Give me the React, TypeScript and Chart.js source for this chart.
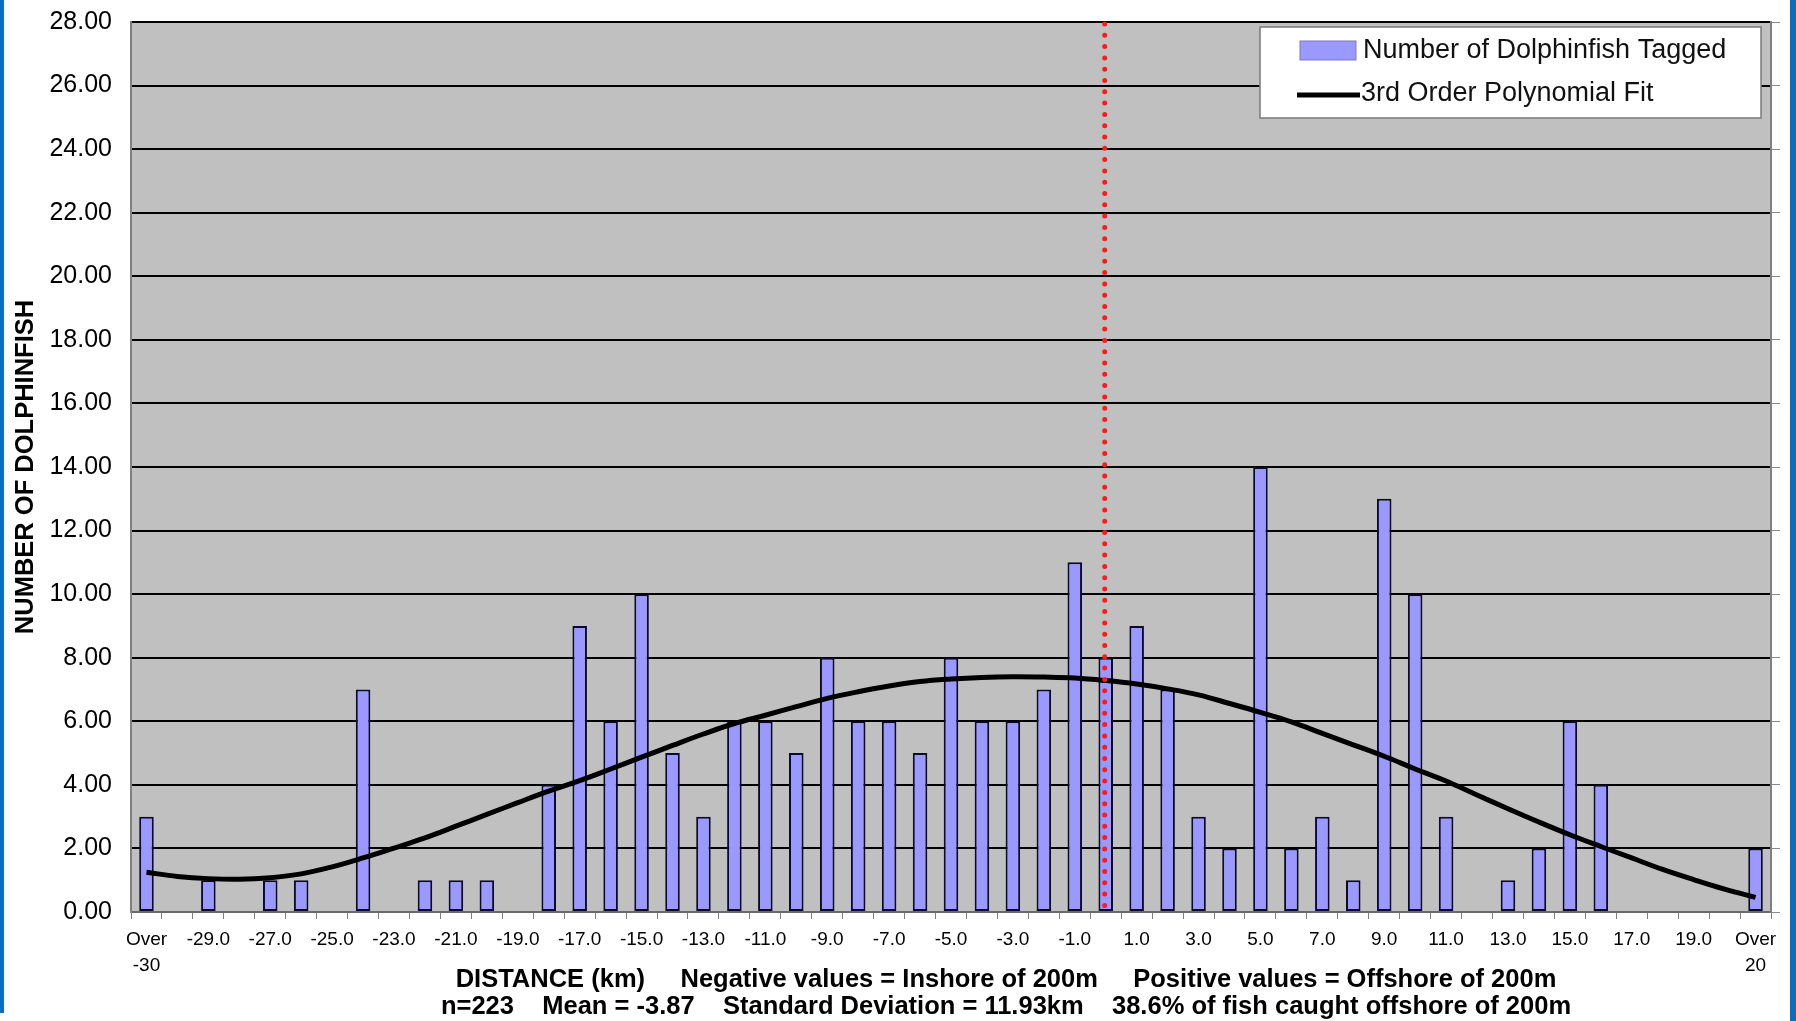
import React, { useEffect, useRef } from 'react';
import { Chart, registerables } from 'chart.js';

Chart.register(...registerables);

const categories: string[] = [
  'Over -30', '-30.0', '-29.0', '-28.0', '-27.0', '-26.0', '-25.0', '-24.0', '-23.0', '-22.0',
  '-21.0', '-20.0', '-19.0', '-18.0', '-17.0', '-16.0', '-15.0', '-14.0', '-13.0', '-12.0',
  '-11.0', '-10.0', '-9.0', '-8.0', '-7.0', '-6.0', '-5.0', '-4.0', '-3.0', '-2.0',
  '-1.0', '0.0', '1.0', '2.0', '3.0', '4.0', '5.0', '6.0', '7.0', '8.0',
  '9.0', '10.0', '11.0', '12.0', '13.0', '14.0', '15.0', '16.0', '17.0', '18.0',
  '19.0', '20.0', 'Over 20',
];

const taggedCounts: number[] = [
  3, 0, 1, 0, 1, 1, 0, 7, 0, 1,
  1, 1, 0, 4, 9, 6, 10, 5, 3, 6,
  6, 5, 8, 6, 6, 5, 8, 6, 6, 7,
  11, 8, 9, 7, 3, 2, 14, 2, 3, 1,
  13, 10, 3, 0, 1, 2, 6, 4, 0, 0,
  0, 0, 2,
];

const polynomialFit: number[] = [
  1.25, 1.12, 1.05, 1.03, 1.08, 1.2, 1.42, 1.7, 2.01, 2.33,
  2.7, 3.07, 3.44, 3.8, 4.13, 4.5, 4.87, 5.24, 5.6, 5.93,
  6.19, 6.46, 6.72, 6.93, 7.11, 7.25, 7.33, 7.38, 7.4, 7.39,
  7.36, 7.28, 7.17, 7.02, 6.83, 6.56, 6.28, 5.98, 5.62, 5.26,
  4.9, 4.5, 4.12, 3.68, 3.25, 2.83, 2.43, 2.06, 1.7, 1.34,
  1.02, 0.72, 0.46,
];

const seriesLabels: string[] = ['Number of Dolphinfish Tagged', '3rd Order Polynomial Fit'];
const shelfCategory = '0.0';
const yTitle = 'NUMBER OF DOLPHINFISH';
const xTitleLines: string[] = [
  'DISTANCE (km)     Negative values = Inshore of 200m     Positive values = Offshore of 200m',
  'n=223    Mean = -3.87    Standard Deviation = 11.93km    38.6% of fish caught offshore of 200m',
];
const yMin = 0;
const yMax = 28;
const yStep = 2;

const FONT = "'Liberation Sans', Arial, sans-serif";

const plotBackground = {
  id: 'plotBackground',
  beforeDraw(chart: any) {
    const { ctx, chartArea: a } = chart;
    ctx.save();
    ctx.fillStyle = '#c0c0c0';
    ctx.fillRect(a.left, a.top, a.right - a.left, a.bottom - a.top);
    ctx.restore();
  },
};

const shelfLine = {
  id: 'shelfLine',
  afterDatasetsDraw(chart: any) {
    const { ctx, chartArea: a } = chart;
    const xs = chart.scales.x;
    const idx = categories.indexOf(shelfCategory);
    const x = xs.getPixelForValue(idx) - 1;
    ctx.save();
    ctx.strokeStyle = '#ff1a1a';
    ctx.lineWidth = 5;
    ctx.lineCap = 'round';
    ctx.setLineDash([0, 11.3]);
    ctx.beginPath();
    ctx.moveTo(x, a.top + 2);
    ctx.lineTo(x, a.bottom + 4);
    ctx.stroke();
    ctx.restore();
  },
};

const boxedLegend = {
  id: 'boxedLegend',
  afterDraw(chart: any) {
    const { ctx, chartArea: a } = chart;
    const ds = chart.data.datasets;
    const left = a.right - 511;
    const top = a.top + 5;
    const w = 501;
    const h = 91;
    ctx.save();
    ctx.fillStyle = '#ffffff';
    ctx.fillRect(left, top, w, h);
    ctx.strokeStyle = '#7a7a7a';
    ctx.lineWidth = 1.5;
    ctx.strokeRect(left, top, w, h);
    ctx.font = `27px ${FONT}`;
    ctx.textBaseline = 'middle';
    ctx.textAlign = 'left';
    // bar item
    ctx.fillStyle = ds[0].backgroundColor;
    ctx.fillRect(left + 40, top + 14, 56, 19);
    ctx.strokeStyle = '#7a7ac0';
    ctx.lineWidth = 1;
    ctx.strokeRect(left + 40, top + 14, 56, 19);
    ctx.fillStyle = '#111';
    ctx.fillText(ds[0].label, left + 103, top + 24);
    // line item
    ctx.strokeStyle = ds[1].borderColor;
    ctx.lineWidth = 5;
    ctx.beginPath();
    ctx.moveTo(left + 37, top + 68);
    ctx.lineTo(left + 100, top + 68);
    ctx.stroke();
    ctx.fillText(ds[1].label, left + 101, top + 67);
    ctx.restore();
  },
};

const xTitle = {
  id: 'xTitle',
  afterDraw(chart: any) {
    const { ctx, chartArea: a } = chart;
    const cx = (a.left + a.right) / 2 + 55;
    ctx.save();
    ctx.font = `bold 25.5px ${FONT}`;
    ctx.fillStyle = '#000';
    ctx.textAlign = 'center';
    ctx.textBaseline = 'middle';
    ctx.fillText(xTitleLines[0], cx, a.bottom + 68);
    ctx.fillText(xTitleLines[1], cx, a.bottom + 95);
    ctx.restore();
  },
};

export default function App() {
  const canvasRef = useRef<HTMLCanvasElement | null>(null);

  useEffect(() => {
    const canvas = canvasRef.current;
    if (!canvas) return;
    const chart = new Chart(canvas, {
      type: 'bar',
      data: {
        labels: categories,
        datasets: [
          {
            type: 'bar',
            label: seriesLabels[0],
            data: taggedCounts,
            backgroundColor: '#9999ff',
            borderColor: '#0a0a2a',
            borderWidth: 2,
            borderSkipped: false,
            categoryPercentage: 1,
            barPercentage: 0.47,
            order: 2,
          } as any,
          {
            type: 'line',
            label: seriesLabels[1],
            data: polynomialFit,
            borderColor: '#000000',
            borderWidth: 5,
            pointRadius: 0,
            tension: 0.4,
            fill: false,
            order: 1,
          } as any,
        ],
      },
      options: {
        responsive: false,
        animation: false,
        devicePixelRatio: 1,
        layout: { padding: { top: 22, left: 0, right: 0, bottom: 0 } },
        plugins: {
          legend: { display: false },
          tooltip: { enabled: false },
          title: { display: false },
        },
        scales: {
          x: {
            type: 'category',
            offset: true,
            grid: {
              display: true,
              drawOnChartArea: false,
              drawTicks: true,
              tickLength: 7,
              offset: true,
              color: '#808080',
              lineWidth: 1,
            },
            border: { display: true, color: '#6a6a6a', width: 2 },
            ticks: {
              autoSkip: false,
              maxRotation: 0,
              minRotation: 0,
              padding: 8,
              color: '#000',
              font: { family: FONT, size: 19, lineHeight: 1.35 },
              callback: (_v: any, i: number) => {
                if (i % 2 !== 0) return '';
                const lab = categories[i];
                if (lab.startsWith('Over')) return ['Over', lab.slice(5)];
                return lab;
              },
            },
            afterFit: (scale: any) => {
              scale.height = 109;
            },
          },
          y: {
            type: 'linear',
            position: 'left',
            min: yMin,
            max: yMax,
            grid: {
              display: true,
              drawTicks: true,
              tickLength: 19,
              tickColor: 'rgba(0,0,0,0)',
              color: (c: any) => (c.tick && c.tick.value === 0 ? '#6a6a6a' : '#000000'),
              lineWidth: 2,
              z: -1,
            },
            border: { display: true, color: '#808080', width: 2 },
            ticks: {
              stepSize: yStep,
              padding: 0,
              color: '#000',
              font: { family: FONT, size: 25 },
              callback: (v: any) => Number(v).toFixed(2),
            },
            title: {
              display: true,
              text: yTitle,
              color: '#000',
              font: { family: FONT, size: 25.5, weight: 'bold' },
              padding: { top: 11, bottom: 0 },
            },
            afterFit: (scale: any) => {
              scale.width = 131;
            },
          },
          y2: {
            type: 'linear',
            position: 'right',
            min: yMin,
            max: yMax,
            grid: {
              display: true,
              drawOnChartArea: false,
              drawTicks: true,
              tickLength: 9,
              color: '#8a8a8a',
              lineWidth: 1,
            },
            border: { display: true, color: '#808080', width: 2 },
            ticks: { display: false, stepSize: yStep },
            afterFit: (scale: any) => {
              scale.width = 25;
            },
          },
        },
      } as any,
      plugins: [plotBackground, shelfLine, boxedLegend, xTitle],
    });
    return () => {
      chart.destroy();
    };
  }, []);

  return (
    <div
      style={{
        position: 'fixed',
        left: 0,
        top: 0,
        width: 1796,
        height: 1021,
        background: '#ffffff',
        overflow: 'hidden',
      }}
    >
      <canvas ref={canvasRef} width={1796} height={1021} style={{ display: 'block' }} />
      <div style={{ position: 'absolute', left: 0, top: 0, width: 4, height: 1013, background: '#0b6dbf' }} />
      <div style={{ position: 'absolute', right: 0, top: 0, width: 6, height: 1021, background: '#0b6dbf' }} />
    </div>
  );
}
